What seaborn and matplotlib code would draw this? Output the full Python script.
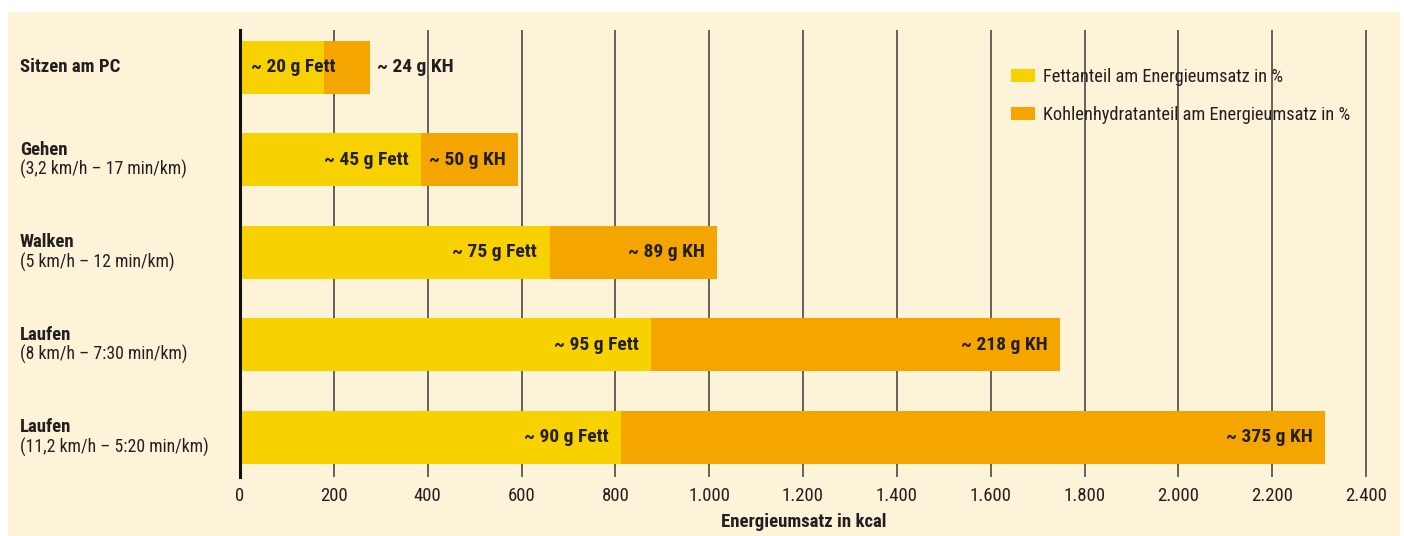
import matplotlib
matplotlib.use("Agg")
import matplotlib.pyplot as plt
import matplotlib.transforms as mtransforms
from matplotlib import font_manager
from matplotlib.patches import Patch, Rectangle
import seaborn as sns
import pandas as pd

# ---- data ----
categories = ["Sitzen am PC", "Gehen", "Walken", "Laufen", "Laufen "]
subtitles = ["", "(3,2 km/h – 17 min/km)", "(5 km/h – 12 min/km)",
             "(8 km/h – 7:30 min/km)", "(11,2 km/h – 5:20 min/km)"]
fat_kcal = [180, 386, 660, 876, 812]
total_kcal = [277, 592, 1017, 1748, 2312]
fat_labels = ["~ 20 g Fett", "~ 45 g Fett", "~ 75 g Fett", "~ 95 g Fett", "~ 90 g Fett"]
kh_labels = ["~ 24 g KH", "~ 50 g KH", "~ 89 g KH", "~ 218 g KH", "~ 375 g KH"]
xticks = [0, 200, 400, 600, 800, 1000, 1200, 1400, 1600, 1800, 2000, 2200, 2400]
xticklabels = ["0", "200", "400", "600", "800", "1.000", "1.200", "1.400",
               "1.600", "1.800", "2.000", "2.200", "2.400"]
legend_labels = ["Fettanteil am Energieumsatz in %",
                 "Kohlenhydratanteil am Energieumsatz in %"]
xlabel = "Energieumsatz in kcal"

YELLOW = "#F7D200"
ORANGE = "#F5A500"
CREAM = "#FCF3D8"
TEXT = "#231F20"

sns.set_theme(style="white")
available = {f.name for f in font_manager.fontManager.ttflist}
fam = None
for cand in ["Liberation Sans Narrow", "Roboto Condensed", "Open Sans Condensed", "Roboto", "Open Sans"]:
    if cand in available:
        fam = cand
        break
plt.rcParams["font.family"] = [fam, "DejaVu Sans"] if fam else ["DejaVu Sans"]

FS = 13.5      # category / tick labels
FS_SUB = 12.8  # subtitle lines
FS_BAR = 14    # bar labels

df = pd.DataFrame({"cat": categories, "fat": fat_kcal, "total": total_kcal})

fig = plt.figure(figsize=(14.04, 5.36), dpi=100)
fig.patch.set_facecolor("white")
fig.patches.append(Rectangle((8/1404, 0), (1400-8)/1404, 1-12/536,
                   transform=fig.transFigure, facecolor=CREAM, edgecolor="none", zorder=-10))

ax = fig.add_axes([240/1404, 1-477/536, (1367-240)/1404, (477-30)/536])
ax.set_facecolor("none")

sns.barplot(data=df, x="total", y="cat", color=ORANGE, width=0.575, orient="h",
            ax=ax, saturation=1, zorder=2, linewidth=0, edgecolor="none")
sns.barplot(data=df, x="fat", y="cat", color=YELLOW, width=0.575, orient="h",
            ax=ax, saturation=1, zorder=3, linewidth=0, edgecolor="none")

ax.set_xlim(0, 2402)
ax.set_ylim(4.43, -0.405)
for t in xticks[1:]:
    ax.axvline(t, color="#3a3a3a", lw=1.1, zorder=1)
for s in ["top", "right", "bottom"]:
    ax.spines[s].set_visible(False)
ax.spines["left"].set_color("#111111")
ax.spines["left"].set_linewidth(2.2)
ax.spines["left"].set_zorder(5)

ax.set_xticks(xticks)
ax.set_xticklabels(xticklabels, fontsize=FS, color=TEXT)
ax.tick_params(axis="x", length=0, pad=7)
ax.set_yticks([])
ax.set_ylabel("")
ax.set_xlabel(xlabel, fontsize=FS, fontweight="bold", color=TEXT, labelpad=6)

# category labels
trans = mtransforms.blended_transform_factory(fig.transFigure, ax.transData)
for i, (c, s) in enumerate(zip(categories, subtitles)):
    if s:
        ax.text(20/1404, i, c.strip(), transform=trans + mtransforms.ScaledTranslation(0, 10/100, fig.dpi_scale_trans),
                ha="left", va="center", fontsize=FS, fontweight="bold", color=TEXT)
        ax.text(20/1404, i, s, transform=trans + mtransforms.ScaledTranslation(0, -10/100, fig.dpi_scale_trans),
                ha="left", va="center", fontsize=FS_SUB, color=TEXT)
    else:
        ax.text(20/1404, i, c, transform=trans, ha="left", va="center",
                fontsize=FS, fontweight="bold", color=TEXT)

# bar labels
for i in range(len(categories)):
    if i == 0:
        ax.annotate(fat_labels[i], (0, i), xytext=(8, 0), textcoords="offset points",
                    ha="left", va="center", fontsize=FS_BAR, fontweight="bold", color=TEXT, zorder=6)
        ax.annotate(kh_labels[i], (total_kcal[i], i), xytext=(5, 0), textcoords="offset points",
                    ha="left", va="center", fontsize=FS_BAR, fontweight="bold", color=TEXT, zorder=6)
    else:
        ax.annotate(fat_labels[i], (fat_kcal[i], i), xytext=(-9, 0), textcoords="offset points",
                    ha="right", va="center", fontsize=FS_BAR, fontweight="bold", color=TEXT, zorder=6)
        ax.annotate(kh_labels[i], (total_kcal[i], i), xytext=(-9, 0), textcoords="offset points",
                    ha="right", va="center", fontsize=FS_BAR, fontweight="bold", color=TEXT, zorder=6)

handles = [Patch(facecolor=YELLOW, edgecolor="none"), Patch(facecolor=ORANGE, edgecolor="none")]
leg = ax.legend(handles, legend_labels, loc="upper left",
                bbox_to_anchor=((1011-240)/1127, 1-(68-30)/447), frameon=False,
                fontsize=13.2, handlelength=1.3, handleheight=0.75, handletextpad=0.45,
                labelspacing=1.1, borderaxespad=0, borderpad=0)
for t in leg.get_texts():
    t.set_color(TEXT)

fig.savefig("out.png", dpi=100, facecolor=fig.get_facecolor())
